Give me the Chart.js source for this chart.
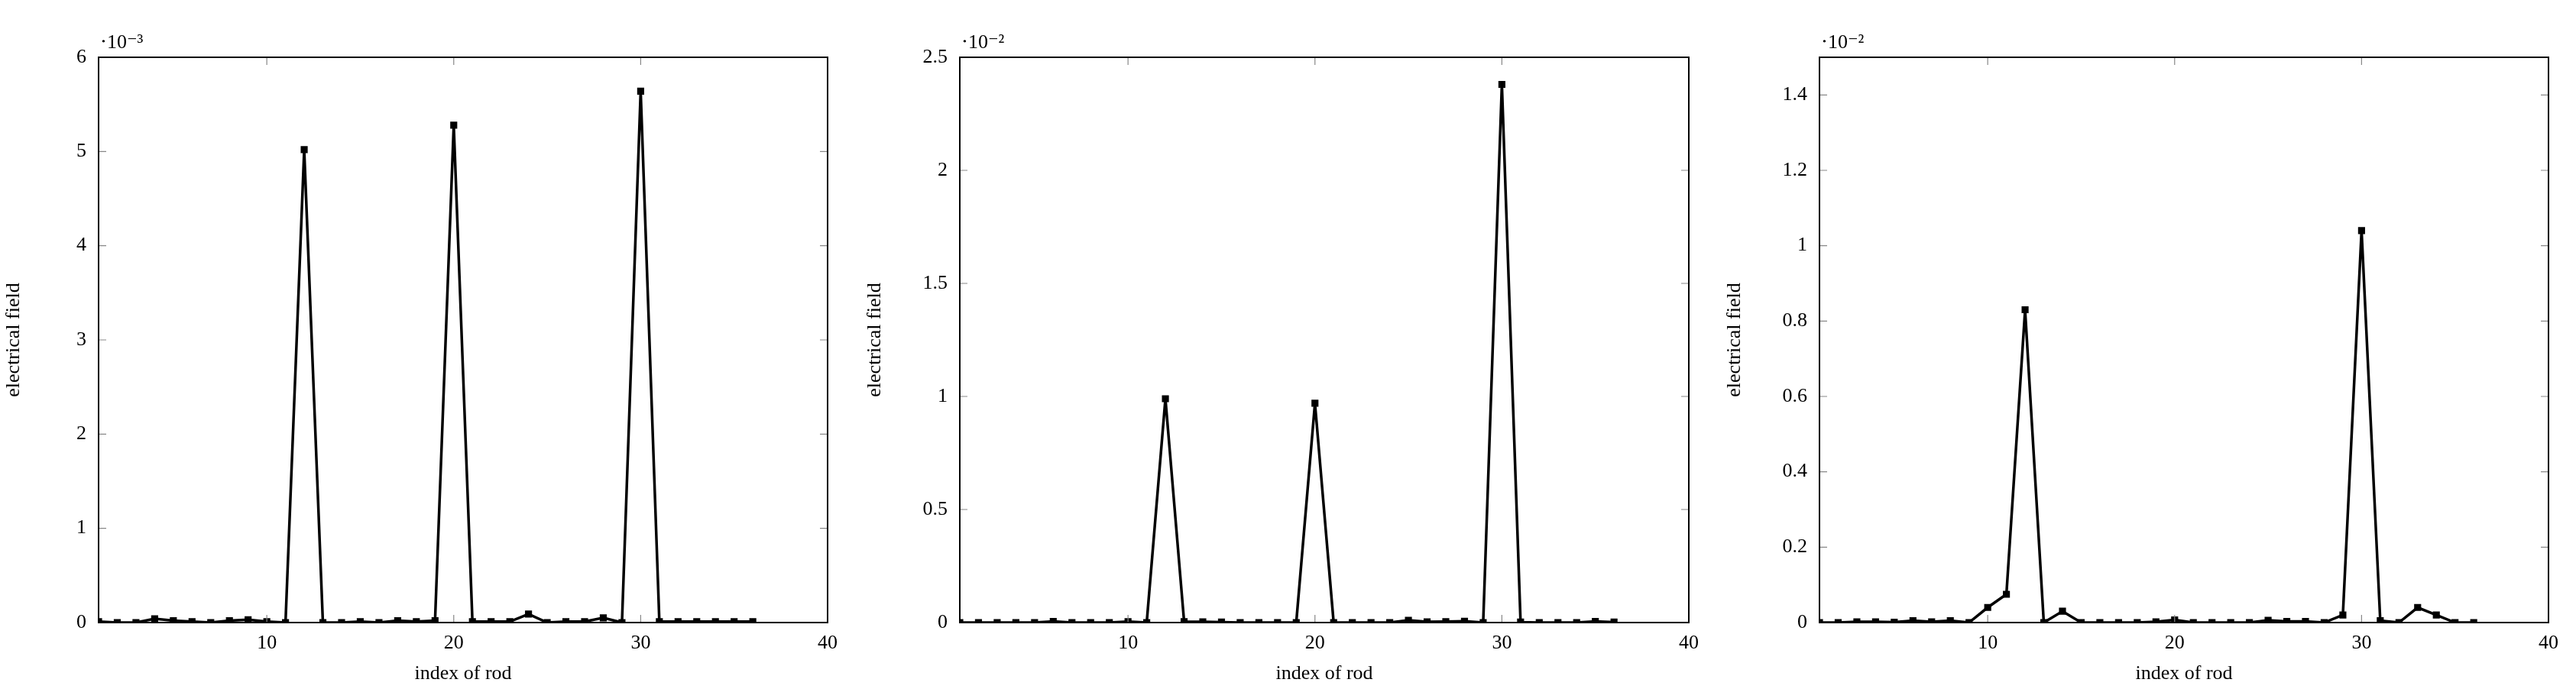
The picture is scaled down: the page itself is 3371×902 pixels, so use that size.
<!DOCTYPE html>
<html><head><meta charset="utf-8">
<script src="https://cdn.jsdelivr.net/npm/chart.js@4"></script>
<style>body{margin:0;background:#fff;width:3371px;height:902px;position:relative;overflow:hidden}canvas{position:absolute;top:0}</style>
</head><body>
<canvas id="c1"></canvas><canvas id="c2"></canvas><canvas id="c3"></canvas>
<script>
const rodIndex = Array.from({length:36},(_, i)=>i+1);
const fieldA = [0.01,0,0,0.04,0.02,0.01,0,0.02,0.03,0.01,0,5.02,0,0,0.01,0,0.02,0.01,0.02,5.28,0.01,0.01,0.01,0.09,0,0.01,0.01,0.05,0,5.64,0.01,0.01,0.01,0.01,0.01,0.01];
const fieldB = [0,0,0,0,0,0.005,0,0,0,0.004,0,0.99,0.004,0.003,0.002,0,0,0,0,0.97,0,0,0,0,0.01,0.003,0.004,0.006,0,2.38,0.002,0,0,0,0.005,0.002];
const fieldC = [0,0,0.002,0.002,0.001,0.005,0.002,0.005,0,0.04,0.075,0.83,0,0.03,0,0,0,0,0.002,0.007,0,0,0,0,0.006,0.003,0.003,0,0.02,1.04,0.005,0,0.04,0.02,0,0];
const xTicks = [10,20,30,40];
const yTicksA = [0,1,2,3,4,5,6];
const yTicksB = [0,0.5,1,1.5,2,2.5];
const yTicksC = [0,0.2,0.4,0.6,0.8,1,1.2,1.4];
const exponents = ["\u22C510\u207B\u00B3","\u22C510\u207B\u00B2","\u22C510\u207B\u00B2"];
const xLabel = "index of rod", yLabel = "electrical field";

const FONT = "'Liberation Serif', 'DejaVu Serif', serif";
const panels = [
  {id:'c1', left:129, data:fieldA, yt:yTicksA, ymax:6, exp:exponents[0]},
  {id:'c2', left:1256, data:fieldB, yt:yTicksB, ymax:2.5, exp:exponents[1]},
  {id:'c3', left:2381, data:fieldC, yt:yTicksC, ymax:1.5, exp:exponents[2]},
];
const AXW = 130, PW = 954, TOP = 75, BOT = 815, H = 902;

const frame = {
  id:'frame',
  afterDraw(chart, args, opts){
    const {ctx, chartArea:a, scales:{x,y}} = chart;
    ctx.save();
    ctx.strokeStyle='#888'; ctx.lineWidth=1.2;
    const L=10;
    xTicks.forEach(v=>{const px=x.getPixelForValue(v);
      ctx.beginPath();ctx.moveTo(px,a.bottom);ctx.lineTo(px,a.bottom-L);ctx.moveTo(px,a.top);ctx.lineTo(px,a.top+L);ctx.stroke();});
    opts.yt.forEach(v=>{const py=y.getPixelForValue(v);
      ctx.beginPath();ctx.moveTo(a.left,py);ctx.lineTo(a.left+L,py);ctx.moveTo(a.right,py);ctx.lineTo(a.right-L,py);ctx.stroke();});
    ctx.strokeStyle='#000'; ctx.lineWidth=2;
    ctx.strokeRect(a.left,a.top,a.right-a.left,a.bottom-a.top);
    ctx.fillStyle='#000'; ctx.font='26px '+FONT; ctx.textBaseline='bottom';
    ctx.fillText(opts.exp, a.left+2, a.top-6);
    ctx.restore();
  }
};

panels.forEach(p=>{
  const cv=document.getElementById(p.id);
  const w=AXW+PW+40;
  cv.width=w; cv.height=H; cv.style.left=(p.left-AXW)+'px'; cv.style.width=w+'px'; cv.style.height=H+'px';
  new Chart(cv,{
    type:'line',
    data:{datasets:[{data:rodIndex.map((r,i)=>({x:r,y:p.data[i]})),borderColor:'#000',backgroundColor:'#000',borderWidth:3.5,
      pointStyle:'rect',pointRadius:4,pointBackgroundColor:'#000',pointBorderColor:'#000',tension:0}]},
    options:{
      responsive:false, animation:false, devicePixelRatio:1,
      layout:{padding:{top:TOP,right:40,left:0,bottom:0}},
      plugins:{legend:{display:false},tooltip:{enabled:false},frame:{yt:p.yt,exp:p.exp}},
      scales:{
        x:{type:'linear',min:1,max:40,
          afterBuildTicks:s=>{s.ticks=xTicks.map(v=>({value:v}));},
          afterFit:s=>{s.height=H-BOT;},
          grid:{display:false},border:{display:false},
          ticks:{color:'#000',font:{family:FONT,size:26},padding:4,maxRotation:0},
          title:{display:true,text:xLabel,color:'#000',font:{family:FONT,size:26},padding:{top:0}}},
        y:{type:'linear',min:0,max:p.ymax,
          afterBuildTicks:s=>{s.ticks=p.yt.map(v=>({value:v}));},
          afterFit:s=>{s.width=AXW;},
          grid:{display:false},border:{display:false},
          ticks:{color:'#000',font:{family:FONT,size:26},padding:8,callback:v=>String(v)},
          title:{display:true,text:yLabel,color:'#000',font:{family:FONT,size:26},padding:{bottom:4}}}
      }
    },
    plugins:[frame]
  });
});
</script>
</body></html>
